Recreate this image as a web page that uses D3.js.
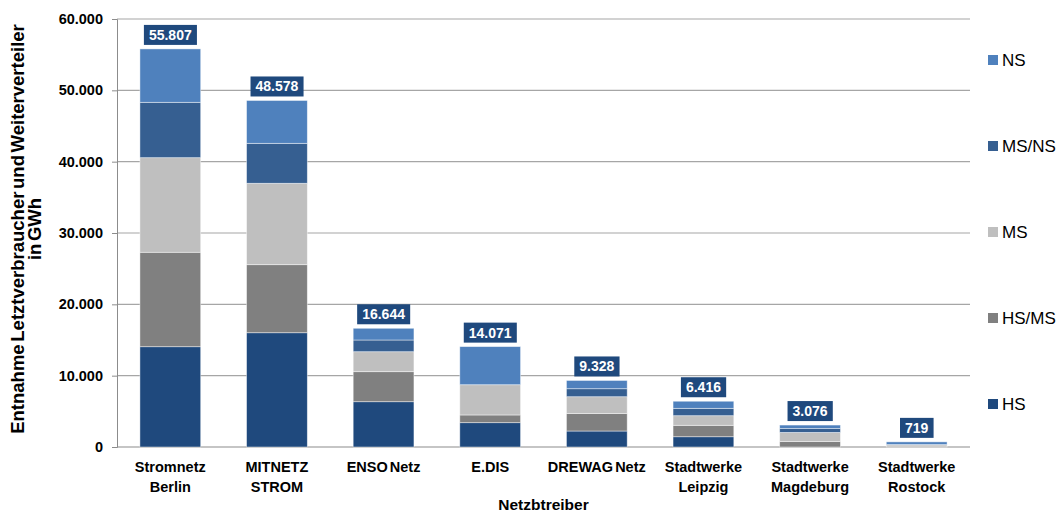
<!DOCTYPE html>
<html>
<head>
<meta charset="utf-8">
<script src="https://cdn.jsdelivr.net/npm/d3@7"></script>
<style>
  body { margin: 0; background: #fff; }
  text { font-family: "Liberation Sans", Arial, sans-serif; }
</style>
</head>
<body>
<div id="chart"></div>
<script>
const operators = ["Stromnetz|Berlin", "MITNETZ|STROM", "ENSO Netz", "E.DIS", "DREWAG Netz",
                   "Stadtwerke|Leipzig", "Stadtwerke|Magdeburg", "Stadtwerke|Rostock"];
const levels = ["HS", "HS/MS", "MS", "MS/NS", "NS"];
const hs   = [14060, 16020, 6350, 3410, 2240, 1440, 0, 0];
const hsms = [13240, 9540, 4210, 1080, 2470, 1600, 780, 0];
const ms   = [13260, 11410, 2800, 4240, 2340, 1350, 1260, 299];
const msns = [7760, 5600, 1640, 0, 1120, 1030, 540, 40];
const ns   = [7487, 6008, 1644, 5341, 1158, 996, 496, 380];
const yTicks = [0, 10000, 20000, 30000, 40000, 50000, 60000];
const colors = ["#1f497d", "#808080", "#bfbfbf", "#365f91", "#4f81bd"];

const series = [hs, hsms, ms, msns, ns];
const rows = operators.map((op, i) => {
  const r = { op };
  levels.forEach((l, j) => r[l] = series[j][i]);
  return r;
});

const width = 1061, height = 513;
const margin = { top: 19, right: 91, bottom: 66, left: 117 };

const svg = d3.select("#chart").append("svg")
  .attr("width", width).attr("height", height);

const x = d3.scaleBand()
  .domain(operators)
  .range([margin.left, width - margin.right])
  .paddingInner(0.43).paddingOuter(0.215);

const y = d3.scaleLinear()
  .domain([0, 60000])
  .range([height - margin.bottom, margin.top]);

const de = d3.formatLocale({ decimal: ",", thousands: ".", grouping: [3], currency: ["", "€"] });
const fmt = de.format(",d");

// grid
svg.append("g").selectAll("line")
  .data(yTicks)
  .join("line")
  .attr("x1", margin.left).attr("x2", width - margin.right)
  .attr("y1", d => y(d)).attr("y2", d => y(d))
  .attr("stroke", d => d === 0 ? "#8c8c8c" : "#a6a6a6")
  .attr("stroke-width", 1.2);

// y axis
const yAxis = svg.append("g")
  .attr("transform", `translate(${margin.left},0)`)
  .call(d3.axisLeft(y).tickValues(yTicks).tickFormat(fmt).tickSize(5).tickPadding(9));
yAxis.select(".domain").attr("stroke", "#8c8c8c");
yAxis.selectAll(".tick line").attr("stroke", "#8c8c8c");
yAxis.selectAll("text")
  .attr("font-size", 14.5).attr("font-weight", "bold").attr("fill", "#000")
  .attr("font-family", "Liberation Sans, Arial, sans-serif");

// stacked bars
const stack = d3.stack().keys(levels)(rows);
svg.append("g").selectAll("g")
  .data(stack)
  .join("g")
  .attr("fill", (d, i) => colors[i])
  .selectAll("rect")
  .data(d => d)
  .join("rect")
  .attr("x", d => x(d.data.op))
  .attr("width", x.bandwidth())
  .attr("y", d => y(d[1]))
  .attr("height", d => y(d[0]) - y(d[1]))
  .attr("stroke", "rgba(255,255,255,0.55)")
  .attr("stroke-width", 0.8);

// total labels
const totals = rows.map(r => ({ op: r.op, total: d3.sum(levels, l => r[l]) }));
const lab = svg.append("g").selectAll("g")
  .data(totals)
  .join("g")
  .attr("transform", d => `translate(${x(d.op) + x.bandwidth() / 2},${y(d.total) - 4})`);
lab.append("text")
  .attr("text-anchor", "middle")
  .attr("y", -5)
  .attr("font-size", 14).attr("font-weight", "bold").attr("fill", "#fff")
  .text(d => fmt(d.total))
  .each(function () {
    const b = this.getBBox();
    d3.select(this.parentNode).insert("rect", "text")
      .attr("x", b.x - 5).attr("width", b.width + 10)
      .attr("y", -20).attr("height", 20)
      .attr("fill", "#1f497d");
  });

// x labels
const xl = svg.append("g").selectAll("text")
  .data(operators)
  .join("text")
  .attr("text-anchor", "middle")
  .attr("x", d => x(d) + x.bandwidth() / 2)
  .attr("y", 472)
  .attr("font-size", 14.5).attr("font-weight", "bold").attr("fill", "#000")
  .attr("word-spacing", -2);
xl.selectAll("tspan")
  .data(d => d.split("|"))
  .join("tspan")
  .attr("x", function () { return d3.select(this.parentNode).attr("x"); })
  .attr("dy", (d, i) => i === 0 ? 0 : 20)
  .text(d => d);

// axis titles
svg.append("text")
  .attr("x", (margin.left + width - margin.right) / 2).attr("y", 510)
  .attr("text-anchor", "middle")
  .attr("font-size", 15.5).attr("font-weight", "bold")
  .text("Netzbtreiber");

const yt = svg.append("text")
  .attr("transform", `translate(24,${(margin.top + height - margin.bottom) / 2 - 4}) rotate(-90)`)
  .attr("text-anchor", "middle")
  .attr("font-size", 18.5).attr("font-weight", "bold")
  .attr("word-spacing", -2.5);
yt.append("tspan").attr("x", 0).attr("dy", 0).text("Entnahme Letztverbraucher und Weiterverteiler");
yt.append("tspan").attr("x", 0).attr("dy", 17).text("in GWh");

// legend
const legY = [60, 146, 232, 318, 404];
const leg = svg.append("g").selectAll("g")
  .data(levels.slice().reverse())
  .join("g")
  .attr("transform", (d, i) => `translate(988,${legY[i]})`);
leg.append("rect")
  .attr("x", 0).attr("y", -5).attr("width", 10).attr("height", 10)
  .attr("fill", d => colors[levels.indexOf(d)]);
leg.append("text")
  .attr("x", 14).attr("y", 6)
  .attr("font-size", 17).attr("fill", "#000")
  .text(d => d);
</script>
</body>
</html>
